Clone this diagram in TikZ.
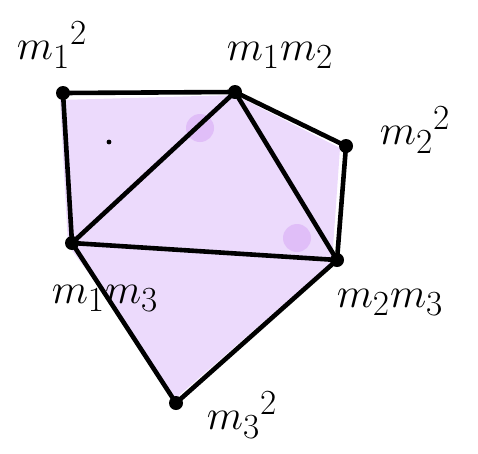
\documentclass[tikz,border=0pt]{standalone}
\usepackage{graphicx}
\newcommand{\biglab}[1]{\scalebox{1.7}{\Huge$#1$}}
\begin{document}
\begin{tikzpicture}[x=1pt,y=-1pt,
  vert/.style={circle,fill=black,inner sep=0pt,minimum size=14pt},
  lab/.style={inner sep=1pt},
  edge/.style={line width=4.6pt,line cap=round,line join=round}]
\definecolor{lilac}{RGB}{236,218,252}
\definecolor{lilacdark}{RGB}{224,190,248}
\useasboundingbox (0,0) rectangle (478,453);
\coordinate (a) at (63,93);
\coordinate (b) at (235,92);
\coordinate (c) at (346,146);
\coordinate (d) at (72,243);
\coordinate (e) at (337,260);
\coordinate (f) at (176,403);
\fill[lilac] (60,100) -- (235,95) -- (340,148) -- (332,262) -- (176,398) -- (90,275) -- (68,245) -- cycle;
\fill[lilacdark] (200,128) circle (14);
\fill[lilacdark] (297,238) circle (14);
\fill[black] (109,142) circle (2.4);
\draw[edge] (a) -- (b) -- (c) -- (e) -- (d) -- cycle;
\draw[edge] (b) -- (d);
\draw[edge] (b) -- (e);
\draw[edge] (d) -- (f) -- (e);
\node[vert] (na) at (a) {};
\node[vert] (nb) at (b) {};
\node[vert] (nc) at (c) {};
\node[vert] (nd) at (d) {};
\node[vert] (ne) at (e) {};
\node[vert] (nf) at (f) {};
\node[lab] (la) at (52,45) {\biglab{m_1{}^2}};
\node[lab] (lb) at (280,55) {\biglab{m_1m_2}};
\node[lab] (lc) at (415,130) {\biglab{m_2{}^2}};
\node[lab] (ld) at (105,298) {\biglab{m_1m_3}};
\node[lab] (le) at (390,302) {\biglab{m_2m_3}};
\node[lab] (lf) at (242,415) {\biglab{m_3{}^2}};
\end{tikzpicture}
\end{document}
